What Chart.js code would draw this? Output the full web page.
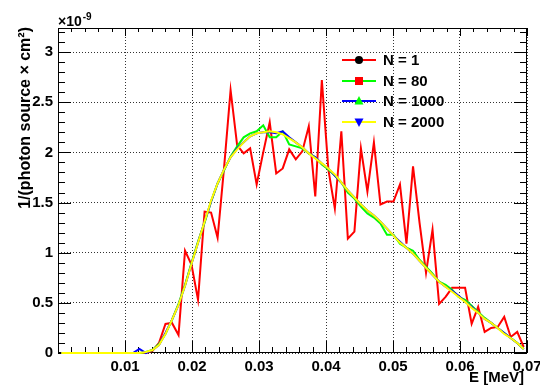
<!DOCTYPE html>
<html>
<head>
<meta charset="utf-8">
<script src="https://cdn.jsdelivr.net/npm/chart.js@4/dist/chart.umd.min.js"></script>
<style>
  html, body { margin: 0; padding: 0; background: #fff; }
  #wrap { width: 540px; height: 385px; }
</style>
</head>
<body>
<div id="wrap"><canvas id="spectrum" width="540" height="385"></canvas></div>
<script>
// Bin centres in MeV (72 bins across 0 - 0.07)
const energies = [
  0.00049, 0.00146, 0.00243, 0.00340, 0.00438, 0.00535, 0.00632, 0.00729, 0.00826, 0.00924,
  0.01021, 0.01118, 0.01215, 0.01313, 0.01410, 0.01507, 0.01604, 0.01701, 0.01799, 0.01896,
  0.01993, 0.02090, 0.02188, 0.02285, 0.02382, 0.02479, 0.02576, 0.02674, 0.02771, 0.02868,
  0.02965, 0.03063, 0.03160, 0.03257, 0.03354, 0.03451, 0.03549, 0.03646, 0.03743, 0.03840,
  0.03938, 0.04035, 0.04132, 0.04229, 0.04326, 0.04424, 0.04521, 0.04618, 0.04715, 0.04813,
  0.04910, 0.05007, 0.05104, 0.05201, 0.05299, 0.05396, 0.05493, 0.05590, 0.05688, 0.05785,
  0.05882, 0.05979, 0.06076, 0.06174, 0.06271, 0.06368, 0.06465, 0.06563, 0.06660, 0.06757,
  0.06854, 0.06951
];

// values in units of 1e-9 / (photon source x cm2)
const n1 = [
  0, 0, 0, 0, 0, 0, 0, 0, 0, 0,
  0, 0, 0, 0, 0.02, 0.10, 0.29, 0.30, 0.18, 1.02,
  0.88, 0.53, 1.41, 1.40, 1.15, 1.85, 2.62, 2.07, 1.99, 2.04,
  1.68, 2.00, 2.30, 1.79, 1.84, 2.03, 1.93, 2.01, 2.26, 1.56,
  2.72, 1.83, 1.44, 2.21, 1.14, 1.21, 2.04, 1.61, 2.10, 1.48,
  1.51, 1.51, 1.68, 1.09, 1.86, 1.30, 0.80, 1.23, 0.49, 0.56,
  0.65, 0.65, 0.65, 0.29, 0.46, 0.21, 0.25, 0.26, 0.36, 0.16,
  0.21, 0.06
];
const n80 = [
  0, 0, 0, 0, 0, 0, 0, 0, 0, 0,
  0, 0, 0, 0.01, 0.03, 0.09, 0.19, 0.33, 0.49, 0.68,
  0.90, 1.11, 1.30, 1.51, 1.69, 1.82, 1.96, 2.06, 2.15, 2.19,
  2.21, 2.27, 2.15, 2.15, 2.21, 2.08, 2.06, 2.04, 1.99, 1.95,
  1.88, 1.83, 1.77, 1.70, 1.60, 1.54, 1.46, 1.39, 1.35, 1.29,
  1.18, 1.18, 1.09, 1.05, 1.02, 0.93, 0.86, 0.79, 0.71, 0.68,
  0.63, 0.56, 0.53, 0.47, 0.41, 0.35, 0.30, 0.25, 0.20, 0.15,
  0.10, 0.04
];
const n1000 = [
  0, 0, 0, 0, 0, 0, 0, 0, 0, 0,
  0, 0, 0.04, 0, 0.03, 0.08, 0.20, 0.33, 0.48, 0.67,
  0.89, 1.10, 1.31, 1.51, 1.69, 1.83, 1.95, 2.04, 2.10, 2.16,
  2.19, 2.20, 2.20, 2.19, 2.21, 2.15, 2.10, 2.05, 1.99, 1.95,
  1.89, 1.84, 1.77, 1.70, 1.62, 1.55, 1.48, 1.42, 1.37, 1.31,
  1.24, 1.17, 1.11, 1.05, 0.99, 0.92, 0.85, 0.78, 0.71, 0.66,
  0.62, 0.57, 0.51, 0.46, 0.40, 0.34, 0.30, 0.25, 0.20, 0.15,
  0.10, 0.04
];
const n2000 = [
  0, 0, 0, 0, 0, 0, 0, 0, 0, 0,
  0, 0, 0, 0.01, 0.03, 0.08, 0.19, 0.33, 0.48, 0.67,
  0.89, 1.10, 1.31, 1.52, 1.69, 1.83, 1.95, 2.03, 2.10, 2.16,
  2.19, 2.20, 2.21, 2.20, 2.18, 2.14, 2.10, 2.05, 1.99, 1.94,
  1.89, 1.84, 1.78, 1.70, 1.62, 1.55, 1.48, 1.42, 1.37, 1.31,
  1.24, 1.17, 1.10, 1.05, 0.99, 0.92, 0.85, 0.78, 0.71, 0.66,
  0.61, 0.56, 0.51, 0.45, 0.40, 0.34, 0.30, 0.25, 0.19, 0.15,
  0.10, 0.04
];

const xTicks = [0, 0.01, 0.02, 0.03, 0.04, 0.05, 0.06, 0.07];
const yTicks = [0, 0.5, 1, 1.5, 2, 2.5, 3];
const seriesLabels = ['N = 1', 'N = 80', 'N = 1000', 'N = 2000'];

const FONT = "'Liberation Sans', Arial, Helvetica, sans-serif";

function pts(vals) {
  return vals.map((v, i) => ({ x: energies[i], y: v }));
}

function makeSet(label, vals, color, marker, markerColor, order) {
  return {
    label: label,
    data: pts(vals),
    borderColor: color,
    backgroundColor: color,
    borderWidth: 2,
    pointRadius: 0,
    fill: false,
    tension: 0,
    clip: false,
    order: order,
    marker: marker,
    markerColor: markerColor
  };
}

// ROOT style frame with inner ticks on all four sides
const frameTicks = {
  id: 'frameTicks',
  beforeDatasetsDraw(chart) {
    const { ctx, chartArea: a, scales: { x, y } } = chart;
    ctx.save();
    ctx.strokeStyle = '#000';
    ctx.lineWidth = 1;
    ctx.beginPath();
    for (let i = 0; i <= 35; i++) {
      const px = Math.round(x.getPixelForValue(i * 0.002)) + 0.5;
      const major = i % 5 === 0;
      ctx.moveTo(px, a.bottom);
      ctx.lineTo(px, a.bottom - (major ? 12 : 6));
      ctx.moveTo(px, a.top);
      ctx.lineTo(px, a.top + (major ? 8 : 4));
    }
    for (let i = 0; i <= 32; i++) {
      const py = Math.round(y.getPixelForValue(i * 0.1)) + 0.5;
      const major = i % 5 === 0;
      ctx.moveTo(a.left, py);
      ctx.lineTo(a.left + (major ? 13 : 7), py);
      ctx.moveTo(a.right, py);
      ctx.lineTo(a.right - (major ? 13 : 7), py);
    }
    ctx.stroke();
    ctx.strokeRect(a.left + 0.5, a.top + 0.5, a.width - 1, a.height - 1);
    ctx.restore();
  },
  afterDraw(chart) {
    const { ctx, chartArea: a } = chart;
    ctx.save();
    ctx.fillStyle = '#000';

    // exponent label
    ctx.textBaseline = 'alphabetic';
    ctx.textAlign = 'left';
    ctx.font = 'bold 14px ' + FONT;
    ctx.fillText('\u00d710', a.left, 26);
    const w = ctx.measureText('\u00d710').width;
    ctx.font = 'bold 10px ' + FONT;
    ctx.fillText('-9', a.left + w + 1, 20);

    // axis titles
    ctx.font = 'bold 15px ' + FONT;
    ctx.textAlign = 'right';
    ctx.fillText('E [MeV]', a.right - 3, 382);

    ctx.save();
    ctx.translate(30, a.top - 1);
    ctx.rotate(-Math.PI / 2);
    ctx.font = 'bold 16px ' + FONT;
    ctx.textAlign = 'right';
    ctx.fillText('1/(photon source \u00d7 cm\u00b2)', 0, 0);
    ctx.restore();

    // legend
    const rows = [60, 81, 101, 122];
    chart.data.datasets.forEach((ds, i) => {
      const yy = rows[i];
      ctx.strokeStyle = ds.borderColor;
      ctx.lineWidth = 2;
      ctx.beginPath();
      ctx.moveTo(342, yy);
      ctx.lineTo(376, yy);
      ctx.stroke();
      ctx.fillStyle = ds.markerColor;
      const cx = 359;
      ctx.beginPath();
      if (ds.marker === 'circle') {
        ctx.arc(cx, yy, 4, 0, Math.PI * 2);
      } else if (ds.marker === 'square') {
        ctx.rect(cx - 4, yy - 4, 8, 8);
      } else if (ds.marker === 'up') {
        ctx.moveTo(cx, yy - 5);
        ctx.lineTo(cx + 4.5, yy + 3.5);
        ctx.lineTo(cx - 4.5, yy + 3.5);
      } else {
        ctx.moveTo(cx, yy + 5);
        ctx.lineTo(cx + 4.5, yy - 3.5);
        ctx.lineTo(cx - 4.5, yy - 3.5);
      }
      ctx.closePath();
      ctx.fill();
      ctx.fillStyle = '#000';
      ctx.font = 'bold 15px ' + FONT;
      ctx.textAlign = 'left';
      ctx.textBaseline = 'middle';
      ctx.fillText(ds.label, 383, yy + 1);
    });
    ctx.restore();
  }
};

new Chart(document.getElementById('spectrum'), {
  type: 'line',
  data: {
    datasets: [
      makeSet(seriesLabels[0], n1, '#ff0000', 'circle', '#000000', 4),
      makeSet(seriesLabels[1], n80, '#00ff00', 'square', '#ff0000', 3),
      makeSet(seriesLabels[2], n1000, '#0000ff', 'up', '#00ff00', 2),
      makeSet(seriesLabels[3], n2000, '#ffff00', 'down', '#0000ff', 1)
    ]
  },
  options: {
    responsive: false,
    animation: false,
    layout: { padding: { left: 0, top: 28, right: 13, bottom: 0 } },
    plugins: {
      legend: { display: false },
      tooltip: { enabled: false }
    },
    scales: {
      x: {
        type: 'linear',
        min: 0,
        max: 0.07,
        afterBuildTicks: (s) => { s.ticks = xTicks.map(v => ({ value: v })); },
        afterFit: (s) => { s.height = 32; s.paddingLeft = 0; s.paddingRight = 0; },
        ticks: {
          padding: 5,
          color: '#000',
          font: { family: FONT, size: 15, weight: 'bold' },
          maxRotation: 0,
          autoSkip: false,
          callback: (v) => v === 0 ? '' : v.toFixed(2)
        },
        grid: { color: '#333', lineWidth: 1, drawTicks: false },
        border: { display: false, dash: [1, 2] }
      },
      y: {
        type: 'linear',
        min: 0,
        max: 3.24,
        afterBuildTicks: (s) => { s.ticks = yTicks.map(v => ({ value: v })); },
        afterFit: (s) => { s.width = 58; s.paddingTop = 0; s.paddingBottom = 0; },
        ticks: {
          padding: 5,
          color: '#000',
          font: { family: FONT, size: 15, weight: 'bold' },
          callback: (v) => String(v)
        },
        grid: { color: '#333', lineWidth: 1, drawTicks: false },
        border: { display: false, dash: [1, 2] }
      }
    }
  },
  plugins: [frameTicks]
});
</script>
</body>
</html>
